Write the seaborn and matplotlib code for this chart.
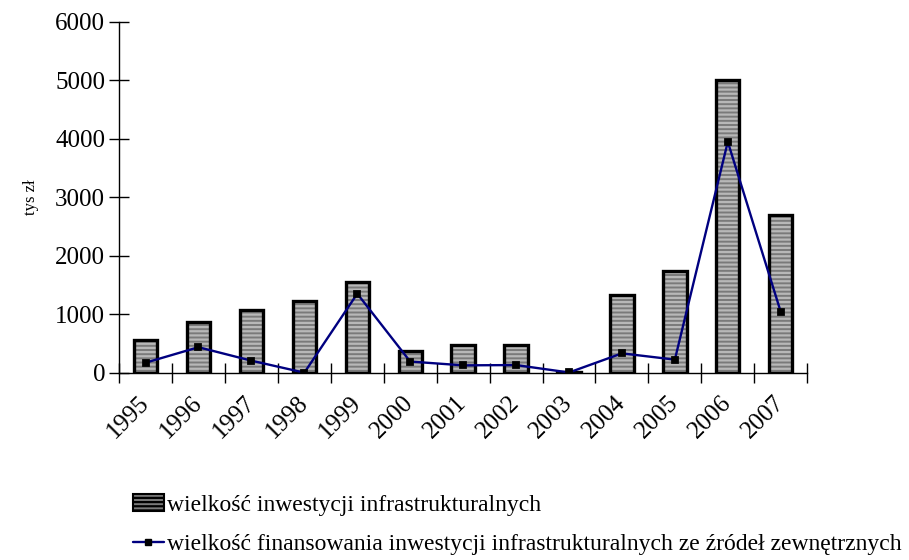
import matplotlib
matplotlib.use("Agg")
import matplotlib.pyplot as plt
import numpy as np
import pandas as pd
import seaborn as sns
from matplotlib.lines import Line2D
from matplotlib.patches import Patch

# data (tys zł)
years = ["1995", "1996", "1997", "1998", "1999", "2000", "2001",
         "2002", "2003", "2004", "2005", "2006", "2007"]
inwestycje = [565, 870, 1075, 1230, 1560, 380, 478, 475, 10, 1330, 1735, 5010, 2695]
finansowanie = [175, 440, 210, 5, 1355, 195, 130, 135, 8, 335, 228, 3950, 1045]

label_bar = "wielkość inwestycji infrastrukturalnych"
label_line = "wielkość finansowania inwestycji infrastrukturalnych ze źródeł zewnętrznych"

df = pd.DataFrame({"rok": years, "inwestycje": inwestycje, "finansowanie": finansowanie})

sns.set_theme(style="white")
plt.rcParams["font.family"] = ["Liberation Serif", "DejaVu Serif"]
plt.rcParams["text.color"] = "black"
plt.rcParams["xtick.color"] = "black"
plt.rcParams["ytick.color"] = "black"
plt.rcParams["axes.labelcolor"] = "black"
plt.rcParams["hatch.linewidth"] = 1.6

fig = plt.figure(figsize=(9.09, 5.6), dpi=100)
ax = fig.add_axes([0.131, 0.334, 0.757, 0.627])

bar_face = "#7a7a7a"
hatch_col = "#b8b8b8"

# striped fill
sns.barplot(data=df, x="rok", y="inwestycje", color=bar_face, width=0.44,
            saturation=1, linewidth=0, ax=ax)
for p in ax.patches:
    p.set_hatch("----")
    p.set_edgecolor(hatch_col)
    p.set_linewidth(0)
# black outlines on top
sns.barplot(data=df, x="rok", y="inwestycje", color="black", width=0.44,
            fill=False, linewidth=2.4, ax=ax)

sns.pointplot(data=df, x="rok", y="finansowanie", color="#000080",
              markers="s", markersize=5, linewidth=1.7, ax=ax)
for ln in ax.lines:
    ln.set_markerfacecolor("black")
    ln.set_markeredgecolor("black")

ax.set_xlim(-0.5, len(years) - 0.5)
ax.set_ylim(0, 6000)
ax.set_yticks(np.arange(0, 6001, 1000))
ax.set_xticks(np.arange(len(years)))
ax.set_xticklabels(years, rotation=45, ha="right", va="center", rotation_mode="anchor")
ax.set_xticks(np.arange(len(years) + 1) - 0.5, minor=True)
ax.tick_params(axis="x", which="major", bottom=True, length=0, pad=19, labelsize=18)
ax.tick_params(axis="x", which="minor", bottom=True, direction="inout", length=14, width=1)
ax.tick_params(axis="y", left=True, direction="inout", length=14, width=1, labelsize=18, pad=3)

for side in ["top", "right"]:
    ax.spines[side].set_visible(False)
for side in ["left", "bottom"]:
    ax.spines[side].set_color("black")
    ax.spines[side].set_linewidth(1)

ax.set_xlabel("")
ax.set_ylabel("tys zł", fontsize=12, labelpad=12)

handles = [
    Patch(facecolor=bar_face, edgecolor="black", hatch="----", linewidth=1.5),
    Line2D([], [], color="#000080", linewidth=1.7, marker="s", markersize=5,
           markerfacecolor="black", markeredgecolor="black"),
]
fig.legend(handles, [label_bar, label_line], loc="upper left",
           bbox_to_anchor=(133 / 909, 1 - 494 / 560), frameon=False,
           fontsize=17, handlelength=1.3, handleheight=0.7, handletextpad=0.15,
           labelspacing=0.75, borderpad=0, borderaxespad=0)

fig.savefig("out.png", dpi=100)
